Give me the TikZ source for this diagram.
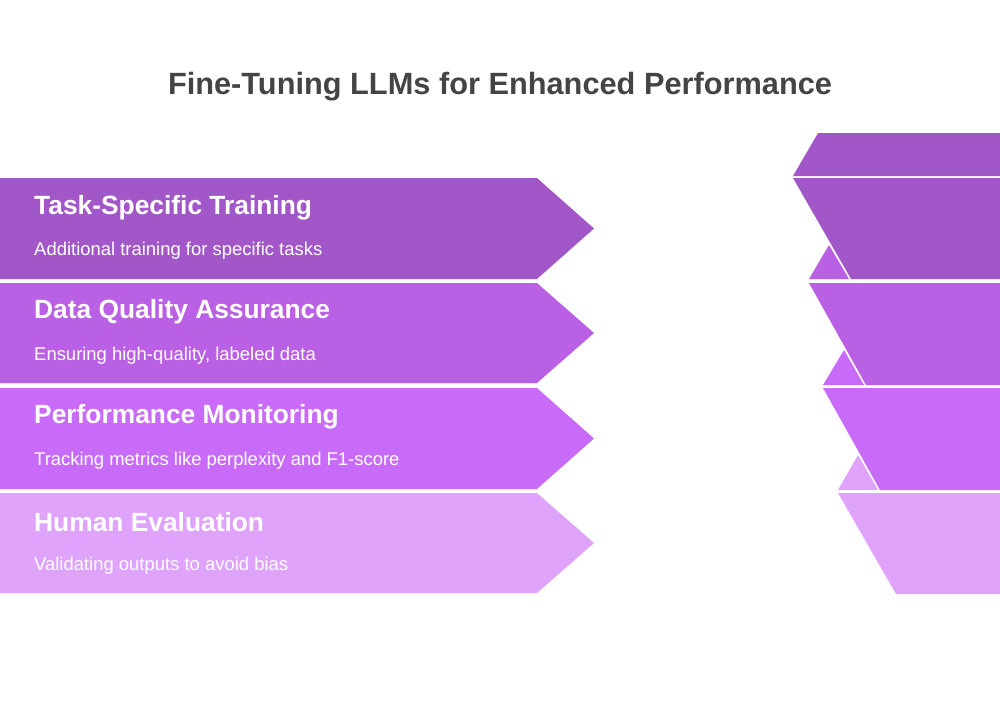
\documentclass[tikz,border=0pt]{standalone}
\usepackage{fontspec}
\setmainfont{Liberation Sans}
\definecolor{bandA}{HTML}{A257C8}
\definecolor{bandB}{HTML}{B960E4}
\definecolor{bandC}{HTML}{C96BF9}
\definecolor{bandD}{HTML}{DFA3FC}
\definecolor{titlegray}{HTML}{444444}
\tikzset{
  heading/.style={anchor=west, text=white, font=\bfseries\fontsize{15}{18}\selectfont},
  blurb/.style={anchor=west, text=white, font=\fontsize{10.5}{13}\selectfont},
}
\begin{document}
\begin{tikzpicture}[x=0.02cm, y=-0.02cm]
            \useasboundingbox (0,0) rectangle (1000,700);
            \node[font=\bfseries\fontsize{17.5}{21}\selectfont, text=titlegray] (title) at (500,87) {Fine-Tuning LLMs for Enhanced Performance};

            % left arrows
            \fill[bandA] (0,178) -- (537,178) -- (594,228.5) -- (537,279) -- (0,279) -- cycle;
            \fill[bandB] (0,283) -- (537,283) -- (594,333) -- (537,383) -- (0,383) -- cycle;
            \fill[bandC] (0,388) -- (537,388) -- (594,438.5) -- (537,489) -- (0,489) -- cycle;
            \fill[bandD] (0,493) -- (537,493) -- (594,543) -- (537,593) -- (0,593) -- cycle;

            % right stack
            \fill[bandA] (818,133) -- (1000,133) -- (1000,176) -- (793,176) -- cycle;
            \fill[bandA] (793,178) -- (1000,178) -- (1000,279) -- (851,279) -- cycle;
            \fill[bandB] (809,279) -- (829,245) -- (849,279) -- cycle;
            \fill[bandB] (809,283) -- (1000,283) -- (1000,385) -- (866,385) -- cycle;
            \fill[bandC] (823,385) -- (844,350) -- (864,385) -- cycle;
            \fill[bandC] (823,388) -- (1000,388) -- (1000,490) -- (880,490) -- cycle;
            \fill[bandD] (838,490) -- (858,455) -- (878,490) -- cycle;
            \fill[bandD] (838,493) -- (1000,493) -- (1000,594) -- (896,594) -- cycle;

            \node[heading] (taskH) at (28,208) {Task-Specific Training};
            \node[blurb] (taskT) at (28,251) {Additional training for specific tasks};
            \node[heading] (dataH) at (28,312) {Data Quality Assurance};
            \node[blurb] (dataT) at (28,356) {Ensuring high-quality, labeled data};
            \node[heading] (perfH) at (28,417) {Performance Monitoring};
            \node[blurb] (perfT) at (28,461) {Tracking metrics like perplexity and F1-score};
            \node[heading] (humanH) at (28,522) {Human Evaluation};
            \node[blurb] (humanT) at (28,566) {Validating outputs to avoid bias};
        \end{tikzpicture}
\end{document}
